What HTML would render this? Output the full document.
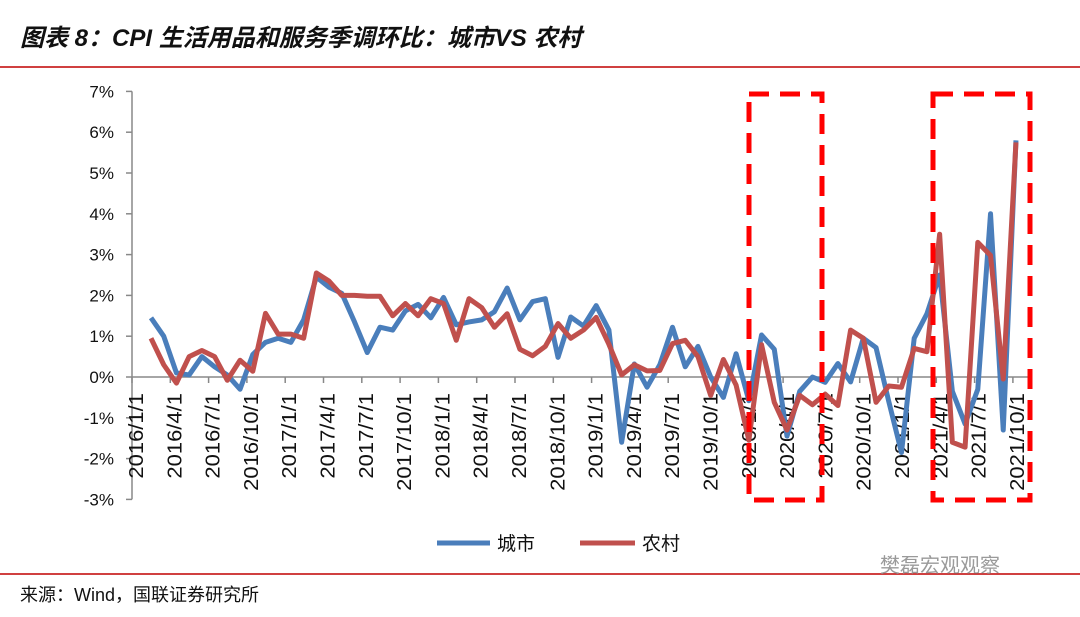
<!DOCTYPE html>
<html><head><meta charset="utf-8"><style>
body{margin:0;background:#fff;width:1080px;height:612px;overflow:hidden;font-family:"Liberation Sans","Noto Sans CJK SC",sans-serif;}
</style></head><body>
<svg id="c" width="1080" height="612" xmlns="http://www.w3.org/2000/svg">
<text x="20" y="46" font-size="24" font-weight="bold" font-style="italic" fill="#111" font-family="'Liberation Sans','Noto Sans CJK SC',sans-serif">图表 8：CPI 生活用品和服务季调环比：城市VS 农村</text>
<line x1="0" y1="67" x2="1080" y2="67" stroke="#c00000" stroke-width="1.5"/>
<line x1="0" y1="574" x2="1080" y2="574" stroke="#c00000" stroke-width="1.5"/>
<text x="20" y="601" font-size="18" fill="#111">来源：Wind，国联证券研究所</text>
<text x="880" y="572" font-size="20" fill="#9a9a9a">樊磊宏观观察</text>
<g id="axes"></g>
<g id="series"></g>
<g><rect x="749" y="94" width="73" height="406" fill="none" stroke="#ff0000" stroke-width="5" stroke-dasharray="20,11"/></g>
<g><rect x="933" y="94" width="97" height="406" fill="none" stroke="#ff0000" stroke-width="5" stroke-dasharray="20,11"/></g>
<g>
<line x1="437" y1="543" x2="490" y2="543" stroke="#4a7ebb" stroke-width="5"/>
<text x="497" y="550" font-size="19" fill="#111">城市</text>
<line x1="580" y1="543" x2="635" y2="543" stroke="#c0504d" stroke-width="5"/>
<text x="642" y="550" font-size="19" fill="#111">农村</text>
</g>
</svg>
<script>
const yTicks=[-3,-2,-1,0,1,2,3,4,5,6,7];
const xLabels=["2016/1/1","2016/4/1","2016/7/1","2016/10/1","2017/1/1","2017/4/1","2017/7/1","2017/10/1","2018/1/1","2018/4/1","2018/7/1","2018/10/1","2019/1/1","2019/4/1","2019/7/1","2019/10/1","2020/1/1","2020/4/1","2020/7/1","2020/10/1","2021/1/1","2021/4/1","2021/7/1","2021/10/1"];
const city=[1.45,1.0,0.1,0.05,0.5,0.25,0.05,-0.3,0.55,0.85,0.95,0.85,1.4,2.45,2.2,2.05,1.35,0.6,1.22,1.15,1.62,1.78,1.45,1.95,1.28,1.35,1.4,1.6,2.18,1.4,1.85,1.92,0.48,1.47,1.25,1.75,1.15,-1.6,0.32,-0.25,0.3,1.22,0.25,0.75,0.0,-0.5,0.57,-0.58,1.03,0.68,-1.45,-0.35,0.0,-0.13,0.33,-0.12,0.95,0.72,-0.6,-1.85,0.95,1.55,2.5,-0.35,-1.15,-0.3,4.0,-1.3,5.8];
const rural=[0.95,0.3,-0.15,0.5,0.65,0.5,-0.08,0.41,0.14,1.56,1.05,1.05,0.95,2.55,2.35,2.0,2.0,1.98,1.98,1.5,1.8,1.5,1.92,1.8,0.9,1.92,1.7,1.22,1.55,0.68,0.52,0.75,1.31,0.95,1.15,1.46,0.8,0.05,0.3,0.15,0.16,0.82,0.9,0.5,-0.45,0.43,-0.2,-1.55,0.79,-0.62,-1.3,-0.45,-0.68,-0.42,-0.7,1.15,0.95,-0.62,-0.22,-0.25,0.7,0.62,3.5,-1.6,-1.72,3.3,2.98,-0.05,5.75];
const NS="http://www.w3.org/2000/svg";
const X0=151,DX=12.72,Y0=377,PY=40.8,AX=132;
function xs(i){return X0+i*DX;}
function ys(v){return Y0-v*PY;}
function mk(t,a,p){const e=document.createElementNS(NS,t);for(const k in a)e.setAttribute(k,a[k]);p.appendChild(e);return e;}
const axes=document.getElementById('axes');
const ax=mk('line',{x1:AX,y1:ys(7),x2:AX,y2:ys(-3),stroke:'#888','stroke-width':1.5},axes);


yTicks.forEach(v=>{
 const t=mk('line',{x1:AX-6,y1:ys(v),x2:AX,y2:ys(v),stroke:'#888','stroke-width':1.5},axes);
 
 
 const l=mk('text',{x:AX-18,y:ys(v)+6,'text-anchor':'end','font-size':17,fill:'#111'},axes);
 l.textContent=v+'%';
 
 
});
const xa=mk('line',{x1:AX,y1:Y0,x2:1030,y2:Y0,stroke:'#888','stroke-width':1.5},axes);


xLabels.forEach((s,k)=>{
 const tx=AX+k*38.3;
 const t=mk('line',{x1:tx,y1:Y0,x2:tx,y2:Y0+6,stroke:'#888','stroke-width':1.5},axes);
 
 
 const l=mk('text',{x:0,y:0,'text-anchor':'end','font-size':20,fill:'#111',transform:`translate(${tx+11},${Y0+16}) rotate(-90) scale(1.1,1)`},axes);
 l.textContent=s;
 
 
});
const sg=document.getElementById('series');
function draw(arr,col,name){
 const p=mk('polyline',{points:arr.map((v,i)=>xs(i)+','+ys(v)).join(' '),fill:'none',stroke:col,'stroke-width':5,'stroke-linejoin':'round'},sg);
 
 
}
draw(city,'#4a7ebb','city-line');
draw(rural,'#c0504d','rural-line');
</script>
</body></html>
